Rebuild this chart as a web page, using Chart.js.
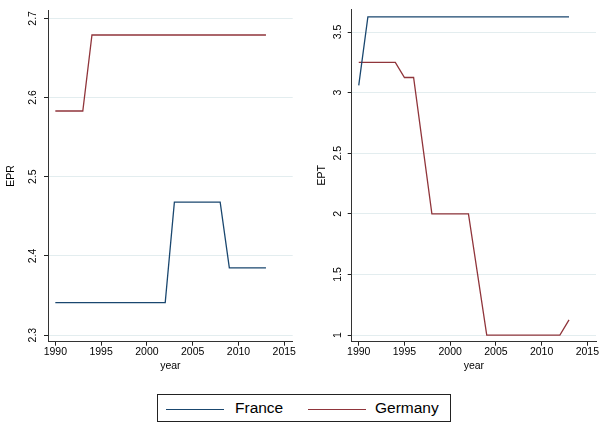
<!DOCTYPE html>
<html>
<head>
<meta charset="utf-8">
<script src="https://cdn.jsdelivr.net/npm/chart.js@4/dist/chart.umd.min.js"></script>
<style>
  html, body { margin:0; padding:0; background:#fff; }
  body { width:602px; height:428px; position:relative; overflow:hidden; font-family:'Liberation Sans', Arial, sans-serif; }
  canvas { position:absolute; top:0; }
  #legend { position:absolute; left:157px; top:394px; width:294px; height:28px; border:1px solid #222; box-sizing:border-box; }
  .sw { position:absolute; top:14px; height:0; border-top:1.3px solid; width:58px; }
  .lt { position:absolute; top:4px; font-size:15.5px; line-height:18px; color:#000; }
</style>
</head>
<body>
<canvas id="c1" width="300" height="380" style="left:0"></canvas>
<canvas id="c2" width="302" height="380" style="left:300px"></canvas>
<div id="legend">
  <div class="sw" style="left:8px;border-color:#1a476f"></div><div class="lt" id="l1" style="left:77px"></div>
  <div class="sw" style="left:150px;border-color:#90353b"></div><div class="lt" id="l2" style="left:217px"></div>
</div>
<script>
const years = [1990,1991,1992,1993,1994,1995,1996,1997,1998,1999,2000,2001,2002,2003,2004,2005,2006,2007,2008,2009,2010,2011,2012,2013];
const seriesNames = ['France','Germany'];
const eprFrance  = [2.341,2.341,2.341,2.341,2.341,2.341,2.341,2.341,2.341,2.341,2.341,2.341,2.341,2.468,2.468,2.468,2.468,2.468,2.468,2.385,2.385,2.385,2.385,2.385];
const eprGermany = [2.583,2.583,2.583,2.583,2.679,2.679,2.679,2.679,2.679,2.679,2.679,2.679,2.679,2.679,2.679,2.679,2.679,2.679,2.679,2.679,2.679,2.679,2.679,2.679];
const eptFrance  = [3.06,3.625,3.625,3.625,3.625,3.625,3.625,3.625,3.625,3.625,3.625,3.625,3.625,3.625,3.625,3.625,3.625,3.625,3.625,3.625,3.625,3.625,3.625,3.625];
const eptGermany = [3.25,3.25,3.25,3.25,3.25,3.125,3.125,2.5625,2,2,2,2,2,1.5,1,1,1,1,1,1,1,1,1,1.125];
const xTicks = [1990,1995,2000,2005,2010,2015];
const eprTicks = [2.3,2.4,2.5,2.6,2.7];
const eptTicks = [1,1.5,2,2.5,3,3.5];

document.getElementById('l1').textContent = seriesNames[0];
document.getElementById('l2').textContent = seriesNames[1];

const COLORS = ['#1a476f','#90353b'];
const FONT = "'Liberation Sans', Arial, sans-serif";

function pts(vals){ return years.map((y,i)=>({x:y, y:vals[i]})); }

function makeChart(id, fr, de, yTicks, yTitle, cfg){
  return new Chart(document.getElementById(id), {
    type:'line',
    data:{ datasets:[
      {label:seriesNames[0], data:pts(fr), borderColor:COLORS[0], borderWidth:1.3, pointRadius:0, tension:0, fill:false},
      {label:seriesNames[1], data:pts(de), borderColor:COLORS[1], borderWidth:1.3, pointRadius:0, tension:0, fill:false}
    ]},
    options:{
      responsive:false, animation:false, devicePixelRatio:1,
      layout:{ padding:{left:0, top:5, right:cfg.rightPad, bottom:0} },
      plugins:{ legend:{display:false}, tooltip:{enabled:false} },
      scales:{
        x:{
          type:'linear', min:cfg.xmin, max:cfg.xmax,
          afterBuildTicks: s => { s.ticks = xTicks.map(v=>({value:v})); },
          afterFit: s => { s.height = 38.3; },
          grid:{ drawOnChartArea:false, drawTicks:true, tickLength:4, tickColor:'#222', lineWidth:1 },
          border:{ display:true, color:'#333', width:1 },
          ticks:{ autoSkip:false, maxRotation:0, minRotation:0, padding:0, color:'#000',
                  font:{family:FONT, size:10.5}, callback: v => String(v) },
          title:{ display:true, text:'year', color:'#000', font:{family:FONT, size:10.5}, padding:{top:0,bottom:7.7} }
        },
        y:{
          type:'linear', min:cfg.ymin, max:cfg.ymax,
          afterBuildTicks: s => { s.ticks = yTicks.map(v=>({value:v})); },
          afterFit: s => { s.width = cfg.yWidth; },
          grid:{ drawOnChartArea:true, color:'#e3edef', lineWidth:1, drawTicks:true, tickLength:4, tickColor:'#222' },
          border:{ display:true, color:'#333', width:1 },
          ticks:{ autoSkip:false, minRotation:90, maxRotation:90, crossAlign:'center', padding:cfg.yPad, color:'#000',
                  font:{family:FONT, size:10.5}, callback: v => String(v) },
          title:{ display:true, text:yTitle, color:'#000', font:{family:FONT, size:10.5}, padding:{top:cfg.titlePad, bottom:0} }
        }
      }
    }
  });
}

makeChart('c1', eprFrance, eprGermany, eprTicks, 'EPR',
  {xmin:1989.2, xmax:2015.92, ymin:2.2917, ymax:2.7103, rightPad:7.3, yWidth:48, yPad:3.9, titlePad:4.7});
makeChart('c2', eptFrance, eptGermany, eptTicks, 'EPT',
  {xmin:1989.23, xmax:2015.95, ymin:0.945, ymax:3.69, rightPad:6, yWidth:51.7, yPad:2.7, titlePad:15.7});
</script>
</body>
</html>
